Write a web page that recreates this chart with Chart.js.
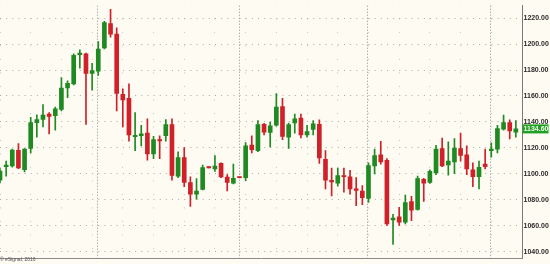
<!DOCTYPE html>
<html>
<head>
<meta charset="utf-8">
<script src="https://cdn.jsdelivr.net/npm/chart.js@4.4.1/dist/chart.umd.min.js"></script>
<style>
  html, body { margin: 0; padding: 0; background: #fdfbf2; }
  #wrap { width: 550px; height: 264px; position: relative; }
</style>
</head>
<body>
<div id="wrap"><canvas id="c"></canvas></div>
<script>
// ---- data ----
const opens  = [1095,1105.5,1106,1118,1103.1,1119.5,1139.4,1142,1146,1144.8,
                1149.7,1166.3,1169.3,1191.8,1192.5,1177.4,1179.1,1197,1215.8,1207.7,
                1161.2,1158.2,1128.6,1129.4,1131.3,1115.3,1126.4,1129.3,1137.9,1098.2,
                1112.4,1093.3,1084.2,1087.9,1105,1103.8,1108,1097.5,1092.8,1097.2,
                1097,1122.2,1117.8,1138.1,1131.8,1137.4,1151.9,1128.3,1139.3,1143,
                1130,1134.2,1138.1,1111.2,1095,1092.8,1098.7,1097.7,1088.4,1086.7,
                1081,1106,1114.6,1110.4,1064.4,1066.8,1062.6,1078.6,1072.5,1095.7,
                1093.3,1100.6,1119.5,1106.8,1109.2,1119.5,1114.6,1103.1,1097.7,1107.5,
                1117.8,1119,1134.4,1139.4,1132];
const highs  = [1104,1109.7,1119,1123.2,1119.5,1143.5,1145.5,1153.3,1147.2,1151.4,
                1174.2,1171.7,1192.5,1195.5,1193,1185.2,1201.9,1217.5,1226.9,1212.6,
                1165.6,1169.3,1147.2,1137.4,1142.3,1128.8,1129.3,1141.8,1142.3,1117,
                1120.2,1097.7,1096.2,1106.8,1105.2,1114.1,1108.5,1099.4,1107.5,1097.4,
                1124,1129.3,1141.1,1139,1139.9,1161.9,1158.2,1139.1,1146,1146,
                1137.4,1141.1,1141.6,1117.8,1104.3,1104.3,1104.3,1102.6,1097,1090.8,
                1108.5,1119,1125.1,1111.7,1068.8,1074.2,1083.5,1082.7,1098.2,1096.5,
                1103.1,1122,1127.6,1124.7,1127.1,1131.3,1121.5,1108.5,1109.7,1119,
                1123.9,1137.4,1145.2,1141.6,1141.1];
const lows   = [1093,1098.2,1105,1104,1101.4,1116,1128.3,1136.2,1130.8,1133.7,
                1148.4,1158.7,1168.5,1181.5,1138.1,1164.4,1175.9,1196.2,1205.3,1148.4,
                1136.2,1125.1,1117.8,1121.5,1110.4,1111.7,1111.7,1125.1,1095,1097,
                1090.1,1074.9,1080.5,1087.6,1104.6,1101.9,1097,1086.7,1092.1,1096.8,
                1094.6,1116,1117,1130,1120.7,1136.7,1126.4,1119.5,1131.3,1127.6,
                1128.3,1130,1108,1088.4,1083,1090.4,1085.9,1084.2,1075.4,1076.1,
                1077.9,1099.9,1107.5,1060.2,1045.5,1060.2,1061.4,1063.9,1072,1078.6,
                1092.5,1099.4,1105.5,1098.9,1100.1,1109.7,1099.4,1090.1,1088.4,1103.8,
                1112.9,1116,1133.7,1126.9,1128.3];
const closes = [1102,1106.7,1118.3,1104.5,1119,1139.4,1141.8,1145.2,1144.3,1150.1,
                1166.1,1169.8,1191.3,1193,1177.4,1179.6,1196.2,1216.6,1207.7,1161.9,
                1157,1130,1129.6,1130.8,1115.3,1126.4,1125.4,1137.9,1098.7,1112.4,
                1093.3,1084.2,1086.7,1104.8,1104.6,1106,1097.5,1093.3,1096.5,1097,
                1121.5,1118.5,1137.9,1132,1136.9,1151.4,1128.8,1137.9,1142.3,1130,
                1132.5,1138.6,1112.2,1095,1093.8,1098.7,1097.7,1088.4,1087.2,1081.5,
                1106.3,1114.1,1109.2,1061.4,1065.8,1062.6,1077.8,1072,1096.2,1092.8,
                1101.9,1119,1106,1109.7,1119.8,1114.1,1103.8,1097.7,1105,1105.5,
                1119,1134.9,1139.4,1133,1134.6];
const monthStarts = [16, 39, 60, 80];          // session indices where a new period begins
const priceTicks  = [1040,1060,1080,1100,1120,1140,1160,1180,1200,1220];
const copyrightText = '\u00A9 eSignal, 2016';

// ---- derived ----
const UP = '#1f8a22', DOWN = '#d0202a';
const idx = opens.map((_, i) => i);
const colors = idx.map(i => closes[i] >= opens[i] ? UP : DOWN);
const bodies = idx.map(i => ({ x: i, y: [opens[i], closes[i]] }));
const wicks  = idx.map(i => ({ x: i, y: [lows[i], highs[i]] }));
const lastClose = closes[closes.length - 1];

const decor = {
  id: 'decor',
  beforeDraw(chart) {
    const ctx = chart.ctx;
    ctx.save();
    ctx.fillStyle = '#fdfbf2';
    ctx.fillRect(0, 0, chart.width, chart.height);
    ctx.restore();
  },
  beforeDatasetsDraw(chart) {
    const { ctx, chartArea: a, scales: { x } } = chart;
    ctx.save();
    ctx.strokeStyle = '#8f8f8f';
    ctx.lineWidth = 1;
    ctx.setLineDash([1, 2]);
    monthStarts.forEach(m => {
      const px = Math.round(x.getPixelForValue(m)) - 0.5;
      ctx.beginPath();
      ctx.moveTo(px, a.top);
      ctx.lineTo(px, a.bottom);
      ctx.stroke();
    });
    ctx.restore();
  },
  afterDraw(chart) {
    const { ctx, chartArea: a, scales: { y } } = chart;
    ctx.save();
    // last price tag
    const py = y.getPixelForValue(lastClose);
    ctx.fillStyle = '#22a022';
    ctx.fillRect(a.right + 0.5, py - 4.5, 26, 9);
    ctx.fillStyle = '#f2fff2';
    ctx.font = 'bold 7px "Liberation Sans", Arial, sans-serif';
    ctx.textBaseline = 'middle';
    ctx.textAlign = 'left';
    ctx.fillText(lastClose.toFixed(2), a.right + 1.5, py + 0.5);
    // copyright
    ctx.fillStyle = '#555';
    ctx.font = '5px "Liberation Sans", Arial, sans-serif';
    ctx.textBaseline = 'middle';
    ctx.fillText(copyrightText, 0, 259.5);
    ctx.restore();
  }
};

new Chart(document.getElementById('c'), {
  type: 'bar',
  data: {
    datasets: [
      { label: 'body', data: bodies, backgroundColor: colors, barThickness: 4,
        minBarLength: 1.2, grouped: false, borderWidth: 0 },
      { label: 'wick', data: wicks, backgroundColor: colors, barThickness: 1,
        minBarLength: 1, grouped: false, borderWidth: 0 }
    ]
  },
  options: {
    responsive: true,
    maintainAspectRatio: false,
    animation: false,
    events: [],
    layout: { padding: { left: 0, right: 0, top: 0, bottom: 1 } },
    plugins: { legend: { display: false }, tooltip: { enabled: false } },
    scales: {
      x: {
        type: 'linear',
        min: 0, max: 85,
        offset: false,
        ticks: { display: false, stepSize: 5 },
        grid: { offset: false, drawTicks: false, color: '#c4c4bc', lineWidth: 1 },
        border: { display: true, color: '#8a8a8a', width: 1, dash: [1, 12.5], dashOffset: 0.8 }
      },
      y: {
        position: 'right',
        min: 1034.81, max: 1229.63,
        afterBuildTicks(scale) { scale.ticks = priceTicks.map(v => ({ value: v })); },
        afterFit(scale) { scale.width = 28; },
        ticks: {
          padding: 1.5,
          color: '#2a2a2a',
          font: { family: '"Liberation Sans", Arial, sans-serif', size: 7, weight: 'bold' },
          callback: v => Number(v).toFixed(2)
        },
        grid: { drawTicks: false, color: '#a9a9a4', lineWidth: 1 },
        border: { display: true, color: '#7a7a7a', width: 1, dash: [1, 5.143], dashOffset: 0 }
      }
    }
  },
  plugins: [decor]
});
</script>
</body>
</html>
